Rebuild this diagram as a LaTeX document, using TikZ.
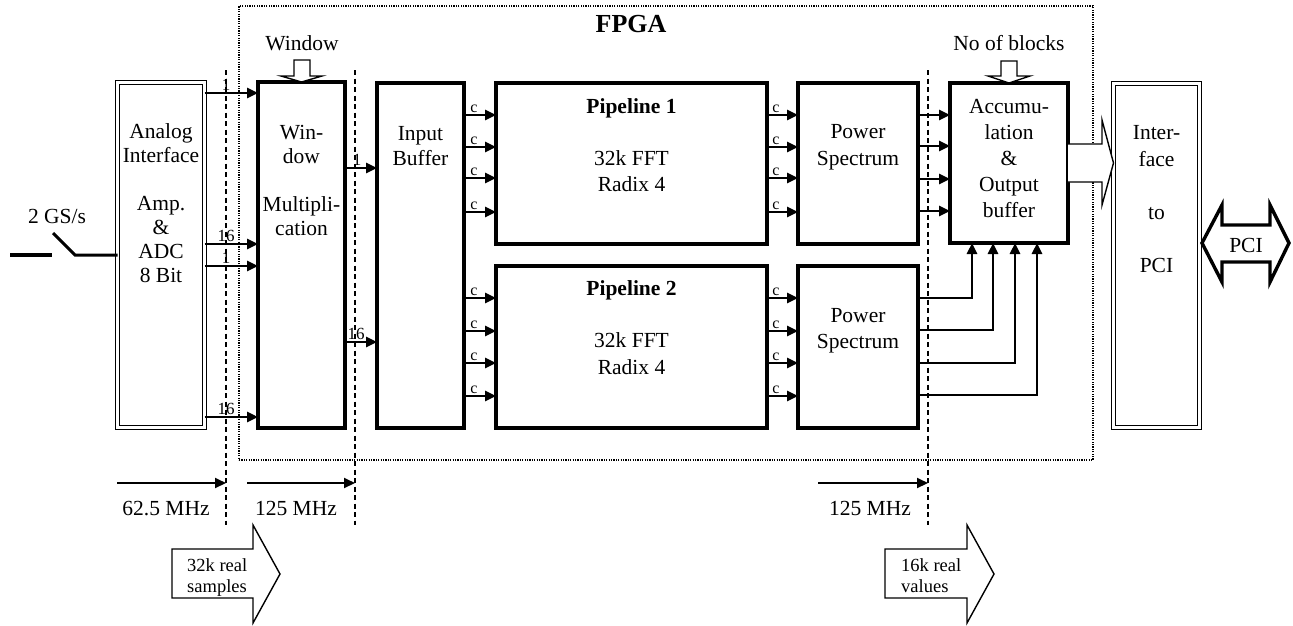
\documentclass[tikz,border=0pt]{standalone}
\usepackage{fontspec}
\setmainfont{Liberation Serif}
\usetikzlibrary{arrows.meta}
\begin{document}
\begin{tikzpicture}[x=1pt,y=-1pt,
  box/.style={draw, line width=3.2pt, inner sep=0pt, outer sep=0pt},
  dbox/.style={draw, line width=1.4pt, double=white, double distance=2.8pt, inner sep=0pt, outer sep=0pt},
  fpgabox/.style={draw, line width=1.3pt, dash pattern=on 1.2pt off 1.2pt, inner sep=0pt, outer sep=0pt},
  sig/.style={line width=2.6pt, -{Triangle[length=11pt,width=10pt]}},
  freq/.style={line width=2pt, -{Triangle[length=11pt,width=10pt]}},
  txt/.style={align=center, inner sep=0pt, font=\fontsize{21.5}{#1}\selectfont},
  txt/.default=26,
  lbl/.style={inner sep=0pt, anchor=base, font=\fontsize{21.5}{24}\selectfont},
  num/.style={inner sep=0pt, anchor=base, font=\fontsize{17}{19}\selectfont},
  clab/.style={inner sep=0pt, anchor=base, font=\fontsize{16}{18}\selectfont},
  barrow/.style={draw, line width=1.4pt, fill=white, line join=miter},
  dashv/.style={line width=1.4pt, dash pattern=on 5pt off 3.5pt},
  btxt/.style={align=left, inner sep=0pt, anchor=west, font=\fontsize{18.5}{21}\selectfont}
]
\fill[white] (0,0) rectangle (1293,625);
\useasboundingbox (0,0) rectangle (1293,625);

% FPGA frame
\node[fpgabox, minimum width=854pt, minimum height=454pt] (fpga) at (666,233) {};
\node[inner sep=0pt, anchor=base, font=\fontsize{26}{28}\selectfont\bfseries] (fpgat) at (631,32) {FPGA};

% dashed clock-domain lines
\coordinate (d1t) at (226,70); \coordinate (d1b) at (226,525);
\coordinate (d2t) at (355,70); \coordinate (d2b) at (355,525);
\coordinate (d3t) at (928,70); \coordinate (d3b) at (928,525);
\draw[dashv] (d1t) -- (d1b);
\draw[dashv] (d2t) -- (d2b);
\draw[dashv] (d3t) -- (d3b);

% blocks
\node[dbox, minimum width=87pt, minimum height=345pt] (ana) at (161,255) {};
\node[box, minimum width=87pt, minimum height=346pt] (win) at (301.5,255) {};
\node[box, minimum width=87pt, minimum height=345pt] (ib) at (420.5,255.5) {};
\node[box, minimum width=271pt, minimum height=161pt] (p1) at (631.5,163.5) {};
\node[box, minimum width=271pt, minimum height=162pt] (p2) at (631.5,347) {};
\node[box, minimum width=120pt, minimum height=161pt] (ps1) at (858,163.5) {};
\node[box, minimum width=120pt, minimum height=162pt] (ps2) at (858,347) {};
\node[box, minimum width=118pt, minimum height=160pt] (acc) at (1009,163) {};
\node[dbox, minimum width=86pt, minimum height=344pt] (ifc) at (1156.5,255.5) {};

% block texts
\node[txt=24] (anat) at (161,205.2) {\strut Analog\\Interface\\~\\Amp.\\\&\\ADC\\8 Bit\strut};
\node[txt=24] (wint) at (301.5,182.2) {\strut Win-\\dow\\~\\Multipli-\\cation\strut};
\node[txt=25] (ibt) at (420.5,147.5) {\strut Input\\Buffer\strut};
\node[lbl, font=\fontsize{21.5}{24}\selectfont\bfseries] (p1h) at (631.5,113) {Pipeline 1};
\node[txt=26.5] (p1t) at (631.5,173.2) {\strut 32k FFT\\Radix 4\strut};
\node[lbl, font=\fontsize{21.5}{24}\selectfont\bfseries] (p2h) at (631.5,295) {Pipeline 2};
\node[txt=26.5] (p2t) at (631.5,355.7) {\strut 32k FFT\\Radix 4\strut};
\node[txt=27] (ps1t) at (858,146.1) {\strut Power\\Spectrum\strut};
\node[txt=26] (ps2t) at (858,329.8) {\strut Power\\Spectrum\strut};
\node[txt=26] (acct) at (1009,160.3) {\strut Accumu-\\lation\\\&\\Output\\buffer\strut};
\node[txt=26.5] (ifct) at (1156.5,200.9) {\strut Inter-\\face\\~\\to\\~\\PCI\strut};

% input switch
\coordinate (in) at (10,255);
\coordinate (swa) at (52,255);
\coordinate (swb) at (53,233);
\coordinate (sw) at (75,255);
\draw[line width=4pt] (in) -- (swa);
\draw[line width=3pt] (swb) -- (sw) -- (ana.west |- sw);
\node[lbl] (gs) at (57,223) {2 GS/s};

% Analog -> Window
\foreach \y/\t in {93/1, 244/16, 266/1, 417/16}{
  \draw[sig] (ana.east |- 0,\y) -- (win.west |- 0,\y);
  \node[num] at (226,\y-3) {\t};
}
% Window -> Input buffer
\foreach \y/\t/\xx in {168/1/357, 342/16/356}{
  \draw[sig] (win.east |- 0,\y) -- (ib.west |- 0,\y);
  \node[num] at (\xx,\y-3) {\t};
}
% Input buffer -> pipelines, pipelines -> power spectrum
\foreach \y in {115,147,178,212}{
  \draw[sig] (ib.east |- 0,\y) -- (p1.west |- 0,\y);
  \node[clab] at (474,\y-3) {c};
  \draw[sig] (p1.east |- 0,\y) -- (ps1.west |- 0,\y);
  \node[clab] at (776,\y-3) {c};
}
\foreach \y in {298,331,363,396}{
  \draw[sig] (ib.east |- 0,\y) -- (p2.west |- 0,\y);
  \node[clab] at (474,\y-3) {c};
  \draw[sig] (p2.east |- 0,\y) -- (ps2.west |- 0,\y);
  \node[clab] at (776,\y-3) {c};
}
% Power spectrum 1 -> accumulation
\foreach \y in {115,146,179,211}{
  \draw[sig] (ps1.east |- 0,\y) -- (acc.west |- 0,\y);
}
% Power spectrum 2 -> accumulation (from below)
\foreach \y/\xx in {298/972, 330/993, 363/1015, 395/1037}{
  \draw[sig] (ps2.east |- 0,\y) -| (\xx,0 |- acc.south);
}

% control inputs
\node[lbl] (wlab) at (302,50) {Window};
\draw[barrow] (294,60) -- (310,60) -- (310,76) -- (322,76) -- (win.north) -- (281,76) -- (294,76) -- cycle;
\node[lbl] (nlab) at (1009,50) {No of blocks};
\draw[barrow] (1001,61) -- (1017,61) -- (1017,76) -- (1030,76) -- (acc.north) -- (988,76) -- (1001,76) -- cycle;

% accumulation -> interface
\draw[barrow] (acc.east |- 0,144) -- (1102,144) -- (1102,120) -- (ifc.west |- 0,163)
   -- (1102,205) -- (1102,182) -- (acc.east |- 0,182);

% PCI bus arrow
\draw[line width=3.4pt, line join=miter, fill=white] (1202,243) -- (1222,205) -- (1222,225) -- (1270,225) -- (1270,205)
   -- (1289,243) -- (1270,282) -- (1270,262) -- (1222,262) -- (1222,282) -- cycle;
\node[lbl] (pci) at (1246,252) {PCI};

% clock rates
\coordinate (f1a) at (117,483); \coordinate (f2a) at (247,483); \coordinate (f3a) at (818,483);
\draw[freq] (f1a) -- (d1b |- f1a);
\draw[freq] (f2a) -- (d2b |- f2a);
\draw[freq] (f3a) -- (d3b |- f3a);
\node[lbl] (r1) at (166,515) {62.5 MHz};
\node[lbl] (r2) at (296,515) {125 MHz};
\node[lbl] (r3) at (870,515) {125 MHz};

% data size arrows
\draw[line width=1.4pt, line join=miter] (172,549) -- (253,549) -- (253,525) -- (280,574) -- (253,623) -- (253,598) -- (172,598) -- cycle;
\node[btxt] (s1) at (187,577.3) {\strut 32k real\\samples\strut};
\draw[line width=1.4pt, line join=miter] (885,549) -- (967,549) -- (967,525) -- (994,574) -- (967,623) -- (967,598) -- (885,598) -- cycle;
\node[btxt] (s2) at (901,577.3) {\strut 16k real\\values\strut};
\end{tikzpicture}
\end{document}
